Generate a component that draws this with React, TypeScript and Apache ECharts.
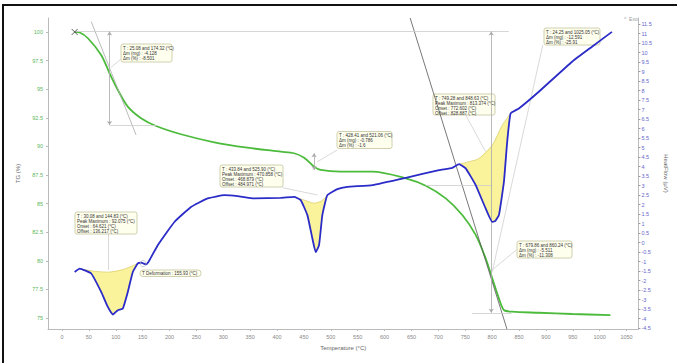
import React, { useEffect, useRef } from "react";
import * as echarts from "echarts";

// ---- data ----
const tempTG = [23.6, 33, 48.2, 72.9, 88.5, 103.9, 122.4, 147.1, 175, 221.3, 283.3, 345.1, 406.9, 431.7, 450.3, 468.8, 481.1, 518.2, 577.6, 639.5, 676.6, 713.7, 744.5, 769.4, 787.9, 800.2, 812.6, 821.9, 837.3, 886.8, 948.6, 1019.9];
const tgValues = [100.0, 99.95, 99.45, 97.99, 96.39, 94.93, 93.47, 92.46, 91.78, 91.06, 90.36, 89.89, 89.54, 89.4, 89.01, 88.23, 87.94, 87.79, 87.79, 87.21, 86.56, 85.46, 84.0, 82.26, 80.22, 78.47, 76.72, 75.7, 75.55, 75.46, 75.35, 75.26];

const tempHF = [23.6, 32.8, 54.4, 72.9, 85.3, 94.6, 103.9, 113.2, 122.4, 131.7, 141, 147, 156.4, 162.7, 178.1, 209.1, 239.9, 270.9, 301.9, 326.5, 357.5, 406.9, 431.7, 444, 456.4, 465.7, 471.8, 478.1, 484.2, 493.5, 512.1, 530.6, 577.6, 639.5, 701.3, 726, 738.4, 750.8, 769.4, 787.9, 800.2, 806, 812.6, 821.9, 828, 834.3, 849.7, 886.8, 948.6, 985.7, 1022.8];
const hfValues = [-1.54, -1.36, -1.62, -2.59, -3.38, -3.78, -3.55, -3.46, -2.59, -1.54, -1.09, -1.05, -1.14, -0.92, -0.13, 1.09, 1.88, 2.33, 2.5, 2.45, 2.33, 2.36, 2.41, 2.24, 1.45, 0.22, -0.5, -0.13, 1.45, 2.5, 2.82, 2.94, 3.03, 3.41, 3.82, 3.94, 4.13, 3.91, 3.03, 1.8, 1.09, 1.15, 1.45, 3.2, 5.31, 6.8, 7.06, 7.94, 9.52, 10.31, 11.09];

// peak baselines [T, heat flow]
const peak1Base = [[32.8, -1.36], [60, -1.5], [85, -1.55], [115, -1.4], [141, -1.09]];
const peak2Base = [[431.7, 2.41], [450, 2.25], [468.8, 2.08], [483, 2.2], [493.5, 2.5]];
const peak3Base = [[738.4, 4.13], [757, 4.26], [775.5, 4.43], [800.2, 5.13], [818.7, 6.18], [834.3, 6.8]];

const xTicks = [0, 50, 100, 150, 200, 250, 300, 350, 400, 450, 500, 550, 600, 650, 700, 750, 800, 850, 900, 950, 1000, 1050];
const tgTicks = [75, 77.5, 80, 82.5, 85, 87.5, 90, 92.5, 95, 97.5, 100];
const hfTicks = [-4.5, -4, -3.5, -3, -2.5, -2, -1.5, -1, -0.5, 0, 0.5, 1, 1.5, 2, 2.5, 3, 3.5, 4, 4.5, 5, 5.5, 6, 6.5, 7, 7.5, 8, 8.5, 9, 9.5, 10, 10.5, 11, 11.5];

// annotation segments in TG coordinates: [from, to]
const tangentLines = [
  [[54.4, 100.9], [137.8, 91.0]],
  [[647.5, 101.22], [827.5, 74.04]],
];
const guideLines = [
  [[24, 100.05], [831, 100.05]],
  [[88.5, 91.87], [178, 91.87]],
  [[676.6, 86.56], [800.2, 86.56]],
  [[762.5, 75.46], [836, 75.46]],
];
const measureLines = [
  [[88.5, 100.05], [88.5, 91.87]],
  [[798.3, 100.03], [798.3, 75.46]],
  [[468.8, 89.4], [468.8, 87.94]],
];
const leaderLines = [
  [[108.9, 97.6], [91, 96.9]],
  [[86.6, 82.4], [86.6, 79.2]],
  [[410, 86.39], [475, 85.75]],
  [[512, 89.69], [475, 88.66]],
  [[750.8, 92.74], [787.9, 89.54]],
  [[894.2, 98.86], [800.2, 79.05]],
  [[844.7, 80.94], [800.2, 79.2]],
];

const annotationTexts = [
  ["T : 25.08 and 174.32 (°C)", "Δm (mg) : -4.128", "Δm (%) : -8.501"],
  ["T : 30.08 and 144.83 (°C)", "Peak Maximum : 92.075 (°C)", "Onset : 64.621 (°C)", "Offset : 136.217 (°C)"],
  ["T Deformation : 155.93 (°C)"],
  ["T : 433.84 and 525.90 (°C)", "Peak Maximum : 470.858 (°C)", "Onset : 468.879 (°C)", "Offset : 484.971 (°C)"],
  ["T : 428.41 and 521.06 (°C)", "Δm (mg) : -0.786", "Δm (%) : -1.6"],
  ["T : 749.28 and 848.63 (°C)", "Peak Maximum : 813.374 (°C)", "Onset : 772.602 (°C)", "Offset : 828.887 (°C)"],
  ["T : 24.25 and 1025.05 (°C)", "Δm (mg) : -12.591", "Δm (%) : -25.91"],
  ["T : 679.86 and 860.24 (°C)", "Δm (mg) : -5.511", "Δm (%) : -11.308"],
];
// layout of annotation boxes (pixels)
const annotationBoxes = [
  { x: 121, y: 44, w: 51, h: 18 },
  { x: 75, y: 212, w: 62, h: 22 },
  { x: 140, y: 270, w: 61, h: 6.5 },
  { x: 220, y: 165, w: 63, h: 22 },
  { x: 337, y: 131.5, w: 55, h: 17 },
  { x: 433, y: 94, w: 62, h: 21 },
  { x: 544, y: 28, w: 56, h: 17 },
  { x: 517, y: 241, w: 55, h: 17 },
];

const greenData = tempTG.map((t, i) => [t, tgValues[i]]);
const blueData = tempHF.map((t, i) => [t, hfValues[i]]);

function fillPolygon(base: number[][]) {
  const t0 = base[0][0];
  const t1 = base[base.length - 1][0];
  const curve = blueData.filter((p) => p[0] >= t0 - 0.01 && p[0] <= t1 + 0.01);
  return [...curve, ...[...base].reverse()];
}
const fillPolys = [fillPolygon(peak1Base), fillPolygon(peak2Base), fillPolygon(peak3Base)];

function seg(s: number[][], color: string, width: number, arrows = false) {
  return [
    { coord: s[0], symbol: arrows ? "arrow" : "none", symbolSize: 4, lineStyle: { color, width, type: "solid" } },
    { coord: s[1], symbol: arrows ? "arrow" : "none", symbolSize: 4 },
  ];
}

export default function App() {
  const ref = useRef<HTMLDivElement>(null);
  useEffect(() => {
    document.body.style.margin = "0";
    const chart = echarts.init(ref.current!, null, { renderer: "svg" });
    const font = "Liberation Sans, Arial, sans-serif";
    const option: any = {
      animation: false,
      backgroundColor: "#fff",
      grid: { left: 48, right: 37, top: 18, bottom: 34 },
      xAxis: {
        type: "value",
        min: -26,
        max: 1072,
        axisLine: { onZero: false, lineStyle: { color: "#bbb", width: 1 } },
        axisTick: { show: true, customValues: xTicks, length: 2, lineStyle: { color: "#bbb" } },
        axisLabel: { customValues: xTicks, fontSize: 5.5, color: "#888", margin: 5, fontFamily: font, formatter: (v: number) => String(v) },
        splitLine: { show: false },
        name: "Temperature (°C)",
        nameLocation: "middle",
        nameGap: 10,
        nameTextStyle: { fontSize: 6, color: "#666", fontFamily: font },
      },
      yAxis: [
        {
          type: "value",
          position: "left",
          min: 74.04,
          max: 101.22,
          axisLine: { show: true, onZero: false, lineStyle: { color: "#bbb", width: 1 } },
          axisTick: { show: true, customValues: tgTicks, length: 2, lineStyle: { color: "#bbb" } },
          axisLabel: { customValues: tgTicks, fontSize: 5.5, color: "#5cb85c", margin: 5, fontFamily: font, formatter: (v: number) => String(v) },
          splitLine: { show: false },
          name: "TG (%)",
          nameLocation: "middle",
          nameRotate: 90,
          nameGap: 24,
          nameTextStyle: { fontSize: 6, color: "#666", fontFamily: font },
        },
        {
          type: "value",
          position: "right",
          min: -4.54,
          max: 11.82,
          axisLine: { show: true, onZero: false, lineStyle: { color: "#bbb", width: 1 } },
          axisTick: { show: true, customValues: hfTicks, length: 2, lineStyle: { color: "#99a" } },
          axisLabel: { customValues: hfTicks, fontSize: 5.5, color: "#6666cc", margin: 3, fontFamily: font, formatter: (v: number) => String(v) },
          splitLine: { show: false },
          name: "HeatFlow (µV)",
          nameLocation: "middle",
          nameRotate: -90,
          nameGap: 20,
          nameTextStyle: { fontSize: 6, color: "#666", fontFamily: font },
        },
      ],
      series: [
        {
          type: "custom",
          yAxisIndex: 1,
          clip: false,
          silent: true,
          z: 1,
          data: fillPolys.map((_, i) => [tempHF[i], 0]),
          renderItem: (params: any, api: any) => {
            const poly = fillPolys[params.dataIndex];
            return {
              type: "polygon",
              shape: { points: poly.map((p) => api.coord(p)) },
              style: { fill: "#fbf39c", stroke: "none" },
            };
          },
        },
        ...[peak1Base, peak2Base, peak3Base].map((b) => ({
          type: "line",
          yAxisIndex: 1,
          data: b,
          symbol: "none",
          smooth: 0.3,
          silent: true,
          z: 2,
          lineStyle: { color: "#d8cc70", width: 0.7 },
        })),
        {
          type: "line",
          yAxisIndex: 0,
          data: greenData,
          symbol: "none",
          smooth: 0.3,
          z: 4,
          lineStyle: { color: "#4cbb3c", width: 1.8 },
          markLine: {
            silent: true,
            animation: false,
            symbol: "none",
            label: { show: false },
            data: [
              ...tangentLines.map((s, i) => seg(s, i === 0 ? "#aaa" : "#555", 0.8)),
              ...guideLines.map((s) => seg(s, "#ccc", 0.8)),
              ...measureLines.map((s) => seg(s, "#aaa", 0.8, true)),
              ...leaderLines.map((s) => seg(s, "#c8c8c8", 0.7)),
            ],
          },
        },
        {
          type: "line",
          yAxisIndex: 1,
          data: blueData,
          symbol: "none",
          smooth: 0.12,
          z: 5,
          lineStyle: { color: "#2b2bc8", width: 1.8 },
        },
        {
          type: "scatter",
          yAxisIndex: 0,
          data: [greenData[0]],
          symbol: "path://M0,0L10,10M10,0L0,10",
          symbolSize: 6,
          z: 6,
          itemStyle: { color: "none", borderColor: "#333", borderWidth: 1 },
        },
        {
          type: "scatter",
          yAxisIndex: 1,
          data: [[151, -1.1]],
          symbol: "circle",
          symbolSize: 6,
          z: 6,
          itemStyle: { color: "none", borderColor: "#aaa", borderWidth: 0.8 },
        },
      ],
      graphic: [
        {
          type: "rect",
          shape: { x: 3, y: 5, width: 720, height: 420 },
          style: { fill: "none", stroke: "#111", lineWidth: 2 },
          silent: true,
        },
        {
          type: "text",
          x: 624,
          y: 16,
          style: { text: "^  Exo", fontSize: 5, fill: "#999", fontFamily: font },
        },
        ...annotationBoxes.map((b, i) => ({
          type: "group",
          x: b.x,
          y: b.y,
          z: 100,
          children: [
            {
              type: "rect",
              shape: { x: 0, y: 0, width: b.w, height: b.h, r: annotationTexts[i].length === 1 ? 3 : 2 },
              style: { fill: "#ffffee", stroke: "#c4c4a0", lineWidth: 0.8 },
            },
            {
              type: "text",
              x: 2,
              y: annotationTexts[i].length === 1 ? 1 : 1.6,
              style: {
                text: annotationTexts[i].join("\n"),
                fontSize: 4.5,
                lineHeight: 5,
                fill: "#333",
                fontFamily: font,
              },
            },
          ],
        })),
      ],
    };
    chart.setOption(option);
    return () => chart.dispose();
  }, []);
  return <div ref={ref} style={{ width: 677, height: 363 }} />;
}
